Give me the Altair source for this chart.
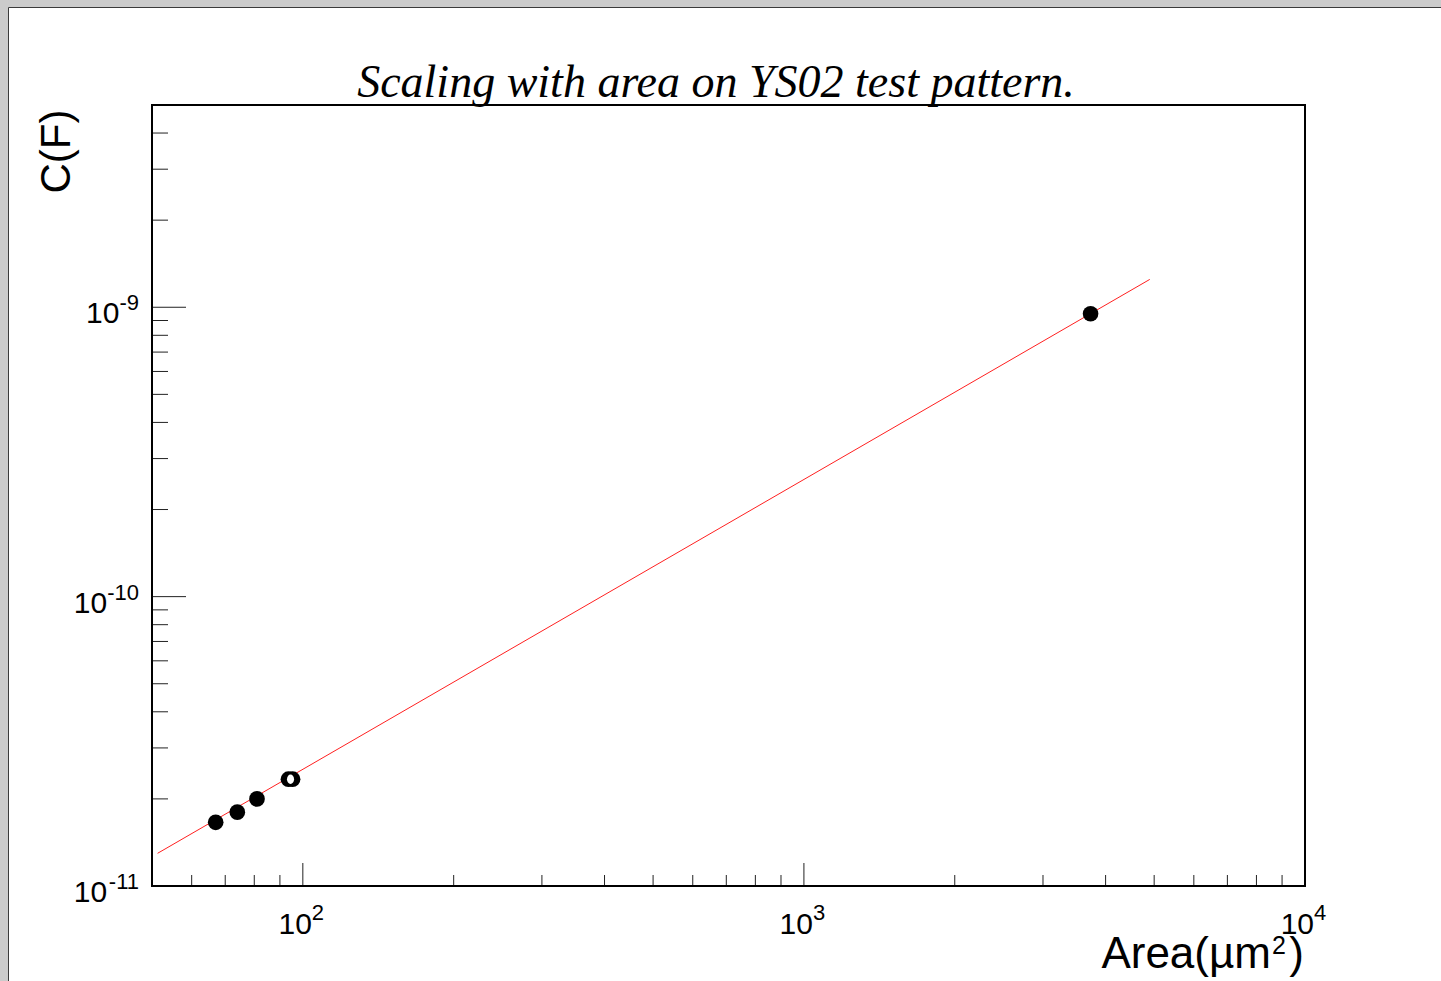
import altair as alt
import pandas as pd
import math

# ---- data ----
area_um2 = [67.0, 74.0, 81.0, 93.6, 95.4, 3733.0]
cap_F = [1.66e-11, 1.80e-11, 2.00e-11, 2.34e-11, 2.34e-11, 9.5e-10]
fit_area = [51.3, 4900.0]
fit_cap = [1.297e-11, 1.248e-9]

x_major = [100, 1000, 10000]
x_minor = [60, 70, 80, 90, 200, 300, 400, 500, 600, 700, 800, 900,
           2000, 3000, 4000, 5000, 6000, 7000, 8000, 9000]
y_major = [1e-11, 1e-10, 1e-9]
y_minor = [2e-11, 3e-11, 4e-11, 5e-11, 6e-11, 7e-11, 8e-11, 9e-11,
           2e-10, 3e-10, 4e-10, 5e-10, 6e-10, 7e-10, 8e-10, 9e-10,
           2e-9, 3e-9, 4e-9]
x_exp = ["2", "3", "4"]
y_exp = ["-11", "-10", "-9"]

title_text = "Scaling with area on YS02 test pattern."
y_title = "C(F)"

W, H = 1153, 781
PAD_L, PAD_T = 152, 105
SANS = "Liberation Sans"
BASE_FS, SUP_FS = 30, 22

xs = alt.Scale(type="log", domain=[50, 10000], nice=False)
ys = alt.Scale(type="log", domain=[1e-11, 5e-9], nice=False)

pts = pd.DataFrame({"a": area_um2, "c": cap_F})
fit = pd.DataFrame({"a": fit_area, "c": fit_cap})
one = pd.DataFrame({"d": [0]})

def X(f="a"):
    return alt.X(f + ":Q", scale=xs, axis=None)

def Y(f="c"):
    return alt.Y(f + ":Q", scale=ys, axis=None)

layers = []

# canvas (white pad with thin border on gray background)
layers.append(alt.Chart(one).mark_rect(fill="white", stroke="#3a3a3a", strokeWidth=1).encode(
    x=alt.value(8.5 - PAD_L), x2=alt.value(1441 - PAD_L + 3),
    y=alt.value(7.5 - PAD_T), y2=alt.value(981 - PAD_T + 3)))

# inward ticks
layers.append(alt.Chart(pd.DataFrame({"a": x_major})).mark_rule(color="#222", strokeWidth=1).encode(
    x=X(), y=alt.value(H), y2=alt.value(H - 23)))
layers.append(alt.Chart(pd.DataFrame({"a": x_minor})).mark_rule(color="#222", strokeWidth=1).encode(
    x=X(), y=alt.value(H), y2=alt.value(H - 11)))
layers.append(alt.Chart(pd.DataFrame({"c": y_major})).mark_rule(color="#222", strokeWidth=1).encode(
    y=Y(), x=alt.value(0), x2=alt.value(34)))
layers.append(alt.Chart(pd.DataFrame({"c": y_minor})).mark_rule(color="#222", strokeWidth=1).encode(
    y=Y(), x=alt.value(0), x2=alt.value(16)))

# fit line
layers.append(alt.Chart(fit).mark_line(color="#ff2020", strokeWidth=1).encode(x=X(), y=Y()))

# data points
layers.append(alt.Chart(pts).mark_point(shape="circle", filled=True, color="black", opacity=1, size=245).encode(
    x=X(), y=Y()))

# the two overlapping points render as an "O" in the reference: white hole between them
pair = pts.iloc[3:5]
mid = pd.DataFrame({"a": [math.sqrt(pair["a"].iloc[0] * pair["a"].iloc[1])],
                    "c": [math.sqrt(pair["c"].iloc[0] * pair["c"].iloc[1])]})
lens = "M -0.75 0 A 0.75 1 0 1 0 0.75 0 A 0.75 1 0 1 0 -0.75 0 Z"
layers.append(alt.Chart(mid).mark_point(shape=lens, filled=True, color="white", opacity=1, size=90).encode(
    x=X(), y=Y()))

# frame
layers.append(alt.Chart(one).mark_rect(filled=False, stroke="black", strokeWidth=2).encode(
    x=alt.value(0), x2=alt.value(W), y=alt.value(0), y2=alt.value(H)))

# x tick labels: "10" + superscript
xl = pd.DataFrame({"a": x_major, "e": x_exp, "b": ["10"] * 3})
layers.append(alt.Chart(xl).mark_text(font=SANS, fontSize=BASE_FS, align="right", baseline="alphabetic",
                                      dx=9, color="black").encode(
    x=X(), y=alt.value(H + 48), text="b:N"))
layers.append(alt.Chart(xl).mark_text(font=SANS, fontSize=SUP_FS, align="left", baseline="alphabetic",
                                      dx=9, color="black").encode(
    x=X(), y=alt.value(H + 34), text="e:N"))

# y tick labels
for val, ex in zip(y_major, y_exp):
    d = pd.DataFrame({"c": [val], "e": [ex], "b": ["10"]})
    sup_w = SUP_FS * (0.333 + 0.556 * (len(ex) - 1))
    layers.append(alt.Chart(d).mark_text(font=SANS, fontSize=SUP_FS, align="right", baseline="alphabetic",
                                         dy=3, color="black").encode(
        y=Y(), x=alt.value(-13), text="e:N"))
    layers.append(alt.Chart(d).mark_text(font=SANS, fontSize=BASE_FS, align="right", baseline="alphabetic",
                                         dy=16, color="black").encode(
        y=Y(), x=alt.value(-13 - sup_w), text="b:N"))

# axis titles
layers.append(alt.Chart(one).mark_text(font=SANS, fontSize=42, angle=270, align="center",
                                       baseline="alphabetic", color="black", text=y_title).encode(
    x=alt.value(70 - PAD_L), y=alt.value(151.5 - PAD_T)))
layers.append(alt.Chart(one).mark_text(font=SANS, fontSize=44, align="right",
                                       baseline="alphabetic", color="black", text="Area(\u00b5m").encode(
    x=alt.value(1271 - PAD_L), y=alt.value(968.3 - PAD_T)))
layers.append(alt.Chart(one).mark_text(font=SANS, fontSize=25, align="left",
                                       baseline="alphabetic", color="black", text="2").encode(
    x=alt.value(1272 - PAD_L), y=alt.value(954 - PAD_T)))
layers.append(alt.Chart(one).mark_text(font=SANS, fontSize=44, align="right",
                                       baseline="alphabetic", color="black", text=")").encode(
    x=alt.value(1304 - PAD_L), y=alt.value(968.3 - PAD_T)))

# chart title
layers.append(alt.Chart(one).mark_text(font="Liberation Serif", fontSize=46, fontStyle="italic",
                                       align="center", baseline="alphabetic", color="black",
                                       text=title_text).encode(
    x=alt.value(716 - PAD_L), y=alt.value(96.7 - PAD_T)))

chart = alt.layer(*layers).properties(
    width=W, height=H,
    padding={"left": PAD_L, "top": PAD_T, "right": 1441 - PAD_L - W, "bottom": 981 - PAD_T - H},
    autosize=alt.AutoSizeParams(type="none"),
    background="#cbcbcb",
).configure_view(stroke="transparent")

chart.save("out.html", embed_options={"renderer": "svg", "actions": False})
